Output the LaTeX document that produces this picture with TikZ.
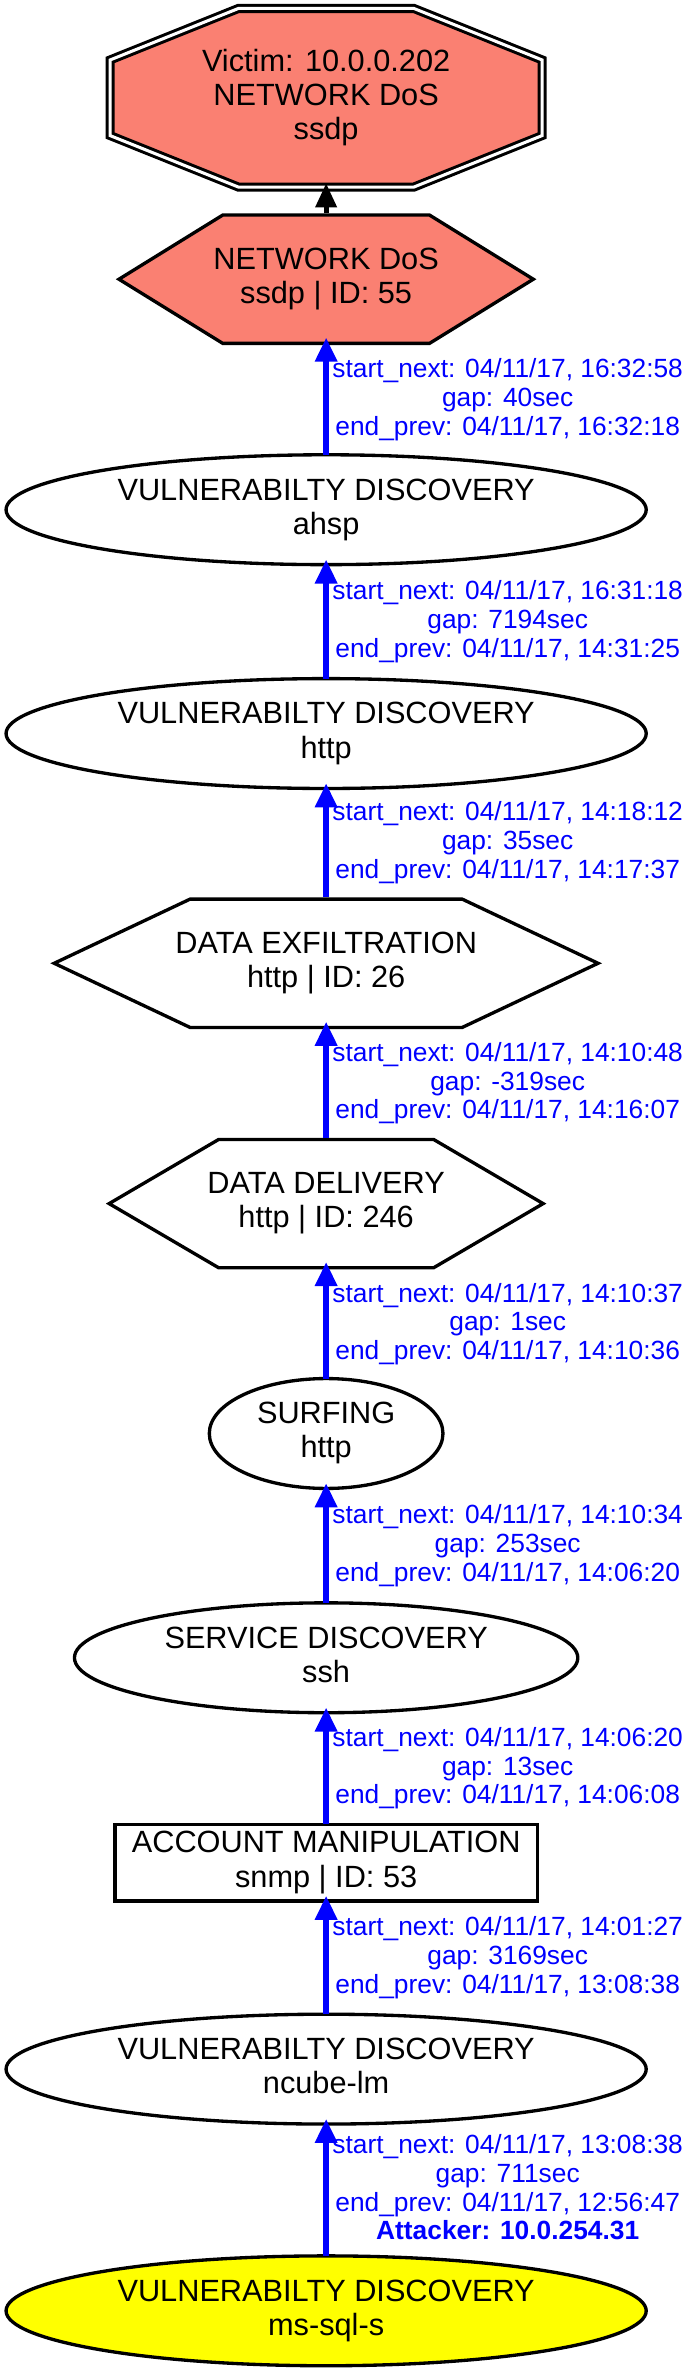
\documentclass[tikz,border=0pt]{standalone}
\usepackage{fontspec}
\setmainfont{Liberation Sans}
\usetikzlibrary{shapes.geometric,arrows.meta}
\pgfdeclarelayer{bg}
\pgfsetlayers{bg,main}
\definecolor{salmonc}{HTML}{FA8072}
\definecolor{edgeblue}{HTML}{0000FF}
\definecolor{yellowc}{HTML}{FFFF00}
\newcommand\mystrut{\rule[-0.212em]{0pt}{0.73em}}
\begin{document}
\begin{tikzpicture}[x=1pt,y=-1pt,
  nd/.style={font=\fontsize{20.3pt}{22.5pt}\selectfont, align=center, inner sep=0pt, outer sep=0pt},
  shapeline/.style={draw=black, line width=2.2pt, line join=miter},
  ell/.style={nd, ellipse, shapeline, minimum height=72.6pt},
  box/.style={nd, rectangle, shapeline},
  ghost/.style={nd, rectangle, draw=none},
  lbl/.style={font=\fontsize{17.4pt}{19pt}\selectfont, text=edgeblue, align=center, anchor=west, inner sep=0pt, xshift=2pt},
  blueedge/.style={draw=edgeblue, line width=4.4pt, -{Triangle[length=16pt,width=14pt]}},
  blackedge/.style={draw=black, line width=3.3pt, -{Triangle[length=16pt,width=13.7pt]}, shorten >=-5.5pt},
]
\useasboundingbox (0,0) rectangle (455,1568);

% nodes
\node[ghost, minimum width=291.4pt, minimum height=124pt] (vic) at (215.5,64.6)
  {\mystrut Victim: 10.0.0.202\\\mystrut NETWORK DoS\\\mystrut ssdp};
\node[ghost, minimum width=276pt, minimum height=87pt] (dos) at (215.5,184.5)
  {\mystrut NETWORK DoS\\\mystrut ssdp | ID: 55};
\node[ell, minimum width=423pt] (ahsp) at (215.5,336.8)
  {\mystrut VULNERABILTY DISCOVERY\\\mystrut ahsp};
\node[ell, minimum width=423pt] (http) at (215.5,484.7)
  {\mystrut VULNERABILTY DISCOVERY\\\mystrut http};
\node[ghost, minimum width=361.6pt, minimum height=87pt] (exf) at (215.5,636.5)
  {\mystrut DATA EXFILTRATION\\\mystrut http | ID: 26};
\node[ghost, minimum width=289pt, minimum height=87pt] (del) at (215.5,795.3)
  {\mystrut DATA DELIVERY\\\mystrut http | ID: 246};
\node[ell, minimum width=154.4pt] (surf) at (215.5,947.2)
  {\mystrut SURFING\\\mystrut http};
\node[ell, minimum width=332.6pt] (ssh) at (215.5,1095.4)
  {\mystrut SERVICE DISCOVERY\\\mystrut ssh};
\node[box, minimum width=279pt, minimum height=50.7pt] (acc) at (215.5,1230.7)
  {\mystrut ACCOUNT MANIPULATION\\\mystrut snmp | ID: 53};
\node[ell, minimum width=423pt] (ncube) at (215.5,1367.2)
  {\mystrut VULNERABILTY DISCOVERY\\\mystrut ncube-lm};
\node[ell, minimum width=423pt, fill=yellowc] (att) at (215.5,1526.9)
  {\mystrut VULNERABILTY DISCOVERY\\\mystrut ms-sql-s};

% polygon outlines behind the text
\begin{pgfonlayer}{bg}
  \path[fill=salmonc, draw=black, line width=2pt, double=white, double distance=2pt, line join=miter]
    (72.8,39.6) -- (157.5,5.6) -- (273.5,5.6) -- (358.2,39.6) -- (358.2,89.6)
    -- (273.5,123.6) -- (157.5,123.6) -- (72.8,89.6) -- cycle;
  \path[shapeline, fill=salmonc]
    (78.6,184.5) -- (147.2,142.1) -- (283.8,142.1) -- (352.4,184.5)
    -- (283.8,226.9) -- (147.2,226.9) -- cycle;
  \path[shapeline, fill=white]
    (35.8,636.5) -- (125.6,594.1) -- (305.4,594.1) -- (395.2,636.5)
    -- (305.4,678.9) -- (125.6,678.9) -- cycle;
  \path[shapeline, fill=white]
    (72.1,795.3) -- (144.5,752.9) -- (286.5,752.9) -- (358.9,795.3)
    -- (286.5,837.7) -- (144.5,837.7) -- cycle;
\end{pgfonlayer}

% connectors
\draw[blackedge] (dos.north) -- (vic.south);

\draw[blueedge, shorten >=-5pt] (ahsp.north) -- node[lbl, midway]
  {\mystrut start\_next: 04/11/17, 16:32:58\\\mystrut gap: 40sec\\\mystrut end\_prev: 04/11/17, 16:32:18} (dos.south);
\draw[blueedge, shorten >=-3.5pt] (http.north) -- node[lbl, midway]
  {\mystrut start\_next: 04/11/17, 16:31:18\\\mystrut gap: 7194sec\\\mystrut end\_prev: 04/11/17, 14:31:25} (ahsp.south);
\draw[blueedge, shorten >=-3.5pt] (exf.north) -- node[lbl, midway]
  {\mystrut start\_next: 04/11/17, 14:18:12\\\mystrut gap: 35sec\\\mystrut end\_prev: 04/11/17, 14:17:37} (http.south);
\draw[blueedge, shorten >=-5pt] (del.north) -- node[lbl, midway]
  {\mystrut start\_next: 04/11/17, 14:10:48\\\mystrut gap: -319sec\\\mystrut end\_prev: 04/11/17, 14:16:07} (exf.south);
\draw[blueedge, shorten >=-5pt] (surf.north) -- node[lbl, midway]
  {\mystrut start\_next: 04/11/17, 14:10:37\\\mystrut gap: 1sec\\\mystrut end\_prev: 04/11/17, 14:10:36} (del.south);
\draw[blueedge, shorten >=-3.5pt] (ssh.north) -- node[lbl, midway]
  {\mystrut start\_next: 04/11/17, 14:10:34\\\mystrut gap: 253sec\\\mystrut end\_prev: 04/11/17, 14:06:20} (surf.south);
\draw[blueedge, shorten >=-3.5pt] (acc.north) -- node[lbl, midway]
  {\mystrut start\_next: 04/11/17, 14:06:20\\\mystrut gap: 13sec\\\mystrut end\_prev: 04/11/17, 14:06:08} (ssh.south);
\draw[blueedge, shorten >=-3.5pt] (ncube.north) -- node[lbl, midway]
  {\mystrut start\_next: 04/11/17, 14:01:27\\\mystrut gap: 3169sec\\\mystrut end\_prev: 04/11/17, 13:08:38} (acc.south);
\draw[blueedge, shorten >=-3.5pt] (att.north) -- node[lbl, midway]
  {\mystrut start\_next: 04/11/17, 13:08:38\\\mystrut gap: 711sec\\\mystrut end\_prev: 04/11/17, 12:56:47\\\mystrut\bfseries Attacker: 10.0.254.31} (ncube.south);
\end{tikzpicture}
\end{document}
